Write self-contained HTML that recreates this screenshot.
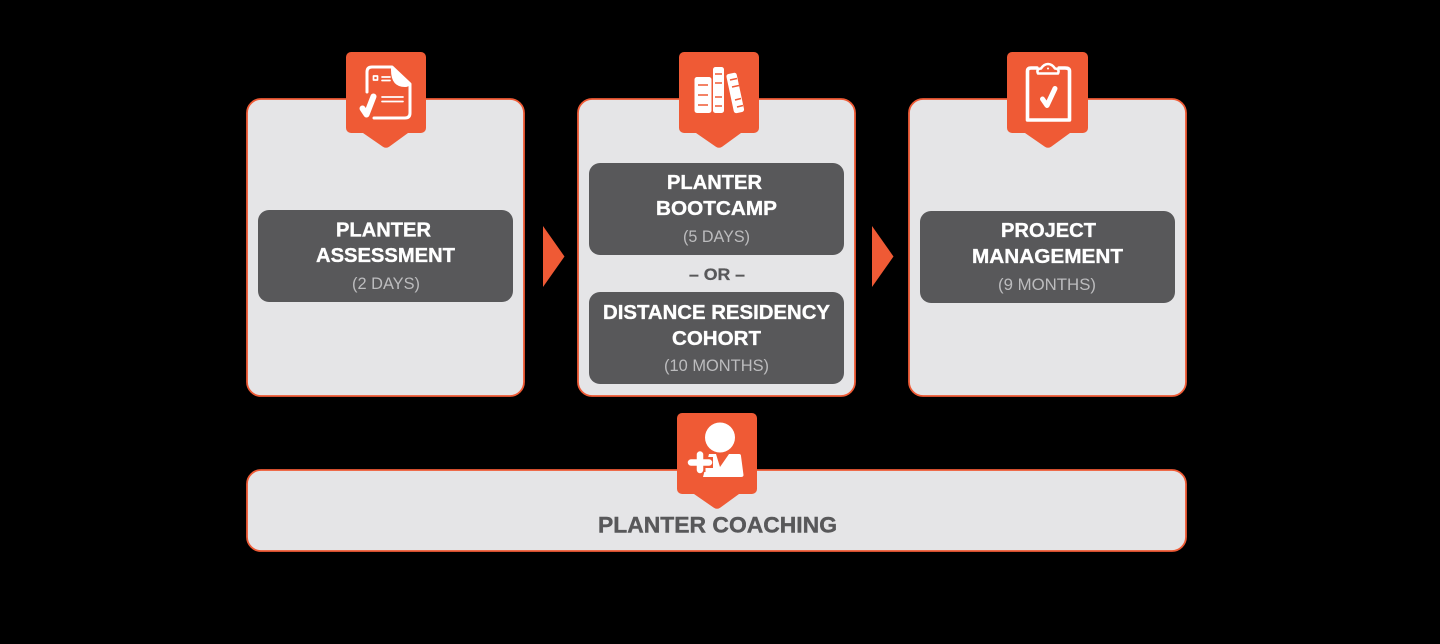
<!DOCTYPE html>
<html>
<head>
<meta charset="utf-8">
<style>
html,body{margin:0;padding:0;background:#000;}
svg{display:block;}
text{font-family:"Liberation Sans",Arial,sans-serif;text-anchor:start;}
.t{font-weight:700;font-size:20px;fill:#fff;stroke:#fff;stroke-width:.35px;}
.s{font-size:16.5px;fill:#bcbcbe;}
</style>
</head>
<body>
<svg width="1440" height="644" viewBox="0 0 1440 644" xmlns="http://www.w3.org/2000/svg">
<rect width="1440" height="644" fill="#000"/>

<!-- cards -->
<g fill="#e5e5e7" stroke="#ef5a35" stroke-width="1.800">
<rect x="247" y="99" width="277" height="297" rx="14"/>
<rect x="578" y="99" width="277" height="297" rx="14"/>
<rect x="909" y="99" width="277" height="297" rx="14"/>
<rect x="247" y="470" width="939" height="81" rx="14"/>
</g>

<!-- arrows -->
<polygon points="543,226 564.500,256.500 543,287" fill="#ef5a35"/>
<polygon points="872,226 893.500,256.500 872,287" fill="#ef5a35"/>

<!-- dark boxes -->
<g fill="#58585a">
<rect x="258" y="210" width="255" height="92" rx="11"/>
<rect x="589" y="163" width="255" height="92" rx="11"/>
<rect x="589" y="292" width="255" height="92" rx="11"/>
<rect x="920" y="211" width="255" height="92" rx="11"/>
</g>

<!-- badges -->
<g fill="#ef5a35">
<path d="M351 52H421a5 5 0 0 1 5 5V128a5 5 0 0 1-5 5H408L389.500 146.500q-3.500 2.500-7 0L363 133H351a5 5 0 0 1-5-5V57a5 5 0 0 1 5-5Z"/>
<path d="M684 52H754a5 5 0 0 1 5 5V128a5 5 0 0 1-5 5H741L722.500 146.500q-3.500 2.500-7 0L696 133H684a5 5 0 0 1-5-5V57a5 5 0 0 1 5-5Z"/>
<path d="M1012 52H1083a5 5 0 0 1 5 5V128a5 5 0 0 1-5 5H1070L1051.500 146.500q-3.500 2.500-7 0L1025 133H1012a5 5 0 0 1-5-5V57a5 5 0 0 1 5-5Z"/>
<path d="M682 413H752a5 5 0 0 1 5 5V489a5 5 0 0 1-5 5H739L720.500 507.500q-3.500 2.500-7 0L694 494H682a5 5 0 0 1-5-5V418a5 5 0 0 1 5-5Z"/>
</g>

<!-- document icon -->
<g fill="none" stroke="#fff" stroke-linecap="round" stroke-linejoin="round">
<path d="M367 92V72q0-5 5-5H392L410 84V113q0 5-5 5H374" stroke-width="3"/>
<path d="M382 77H390M382 80.500H390M382 97H403M382 101.500H403" stroke-width="1.700"/>
<rect x="373.500" y="76" width="4" height="4" stroke-width="1.700"/>
<path d="M362.500 108.500L366.500 114.500L373.500 96.500" stroke-width="6"/>
</g>
<path d="M391 67L410 84Q409 87 405 87Q391 87 391 70Z" fill="#fff"/>

<!-- books icon -->
<g fill="#fff">
<rect x="694.500" y="77" width="17" height="36" rx="2.500"/>
<rect x="713" y="67" width="11" height="46" rx="2.500"/>
<rect x="730" y="73" width="10.500" height="40" rx="2.500" transform="rotate(-12 735 93)"/>
</g>
<g stroke="#ef5a35" stroke-width="1.600" fill="none">
<path d="M698 85H708M698 95H708M698 105H708"/>
<path d="M715 74H722M715 83H722M715 97H722M715 106H722"/>
<path d="M730 80L737 78.500M732 87L739 85.500M735 100L741 98.500M737 107L743 105.500"/>
</g>

<!-- clipboard icon -->
<g fill="none" stroke="#fff" stroke-linejoin="round" stroke-linecap="round">
<path d="M1037 68H1031Q1027.500 68 1027.500 71V120H1069.500V71Q1069.500 68 1065 68H1059" stroke-width="3.600"/>
<path d="M1038 73.500Q1036 69 1041 68.500Q1044 64 1048 64Q1052 64 1055 68.500Q1060 69 1058 73.500Z" stroke-width="2.600"/>
<path d="M1042.500 99L1047 105.500L1055 88.500" stroke-width="5"/>
</g>
<circle cx="1048" cy="68.500" r="1" fill="#fff"/>

<!-- coach icon -->
<circle cx="720" cy="437.500" r="15" fill="#fff"/>
<path d="M709 454H716L720 467L729 454H739Q741 454 741 456L743.500 475Q743.500 477 741 477H703Z" fill="#fff"/>
<path d="M700 453V472M704 462.500H713" stroke="#ef5a35" stroke-width="11" fill="none"/>
<path d="M700 454.500V470M691 462.500H709" stroke="#fff" stroke-width="6.500" stroke-linecap="round" fill="none"/>

<!-- left -->
<text class="t" x="336" y="236.500" textLength="95" lengthAdjust="spacingAndGlyphs">PLANTER</text>
<text class="t" x="316" y="262" textLength="139" lengthAdjust="spacingAndGlyphs">ASSESSMENT</text>
<text class="s" x="352" y="289" textLength="68" lengthAdjust="spacingAndGlyphs">(2 DAYS)</text>

<!-- middle -->
<text class="t" x="667" y="189" textLength="95" lengthAdjust="spacingAndGlyphs">PLANTER</text>
<text class="t" x="656" y="215" textLength="121" lengthAdjust="spacingAndGlyphs">BOOTCAMP</text>
<text class="s" x="683" y="242" textLength="67" lengthAdjust="spacingAndGlyphs">(5 DAYS)</text>
<text x="689" y="280" font-size="17" font-weight="700" fill="#58585a" stroke="#58585a" stroke-width=".3" textLength="56" lengthAdjust="spacingAndGlyphs">– OR –</text>
<text class="t" x="603" y="319" textLength="227" lengthAdjust="spacingAndGlyphs">DISTANCE RESIDENCY</text>
<text class="t" x="672" y="345" textLength="89" lengthAdjust="spacingAndGlyphs">COHORT</text>
<text class="s" x="664" y="371" textLength="105" lengthAdjust="spacingAndGlyphs">(10 MONTHS)</text>

<!-- right -->
<text class="t" x="1001" y="237" textLength="95" lengthAdjust="spacingAndGlyphs">PROJECT</text>
<text class="t" x="972" y="263" textLength="151" lengthAdjust="spacingAndGlyphs">MANAGEMENT</text>
<text class="s" x="998" y="290" textLength="98" lengthAdjust="spacingAndGlyphs">(9 MONTHS)</text>

<!-- bottom -->
<text x="598" y="532.500" font-size="22" font-weight="700" fill="#58585a" stroke="#58585a" stroke-width=".4" textLength="239" lengthAdjust="spacingAndGlyphs">PLANTER COACHING</text>
</svg>
</body>
</html>
